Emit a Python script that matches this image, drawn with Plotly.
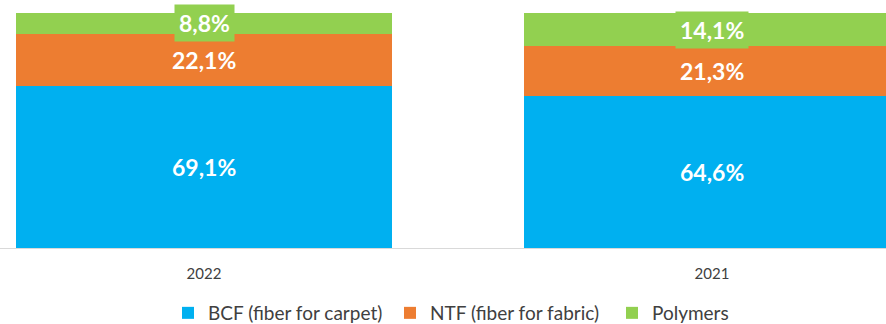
import plotly.graph_objects as go

years = ["2022", "2021"]
series_names = ["BCF (fiber for carpet)", "NTF (fiber for fabric)", "Polymers"]
bcf = [69.1, 64.6]
ntf = [22.1, 21.3]
polymers = [8.8, 14.1]
colors = ["#00B0F0", "#ED7D31", "#92D050"]

values = [bcf, ntf, polymers]

fig = go.Figure()
for name, vals, col in zip(series_names, values, colors):
    fig.add_trace(go.Bar(
        x=years, y=vals, name=name, marker=dict(color=col, line=dict(width=0)),
        hoverinfo="skip",
    ))

FONT = "Lato, 'Open Sans', sans-serif"

# labels
for i, yr in enumerate(years):
    base = 0
    for s, (vals, col) in enumerate(zip(values, colors)):
        v = vals[i]
        txt = f"<b>{v:.1f}%</b>".replace(".", ",")
        ann = dict(
            x=i, y=base + v / 2, text=txt, showarrow=False,
            font=dict(family=FONT, size=23, color="white"),
            xref="x", yref="y",
        )
        if s == 2:
            ann.update(bgcolor=col, borderpad=4)
        fig.add_annotation(**ann)
        base += v

fig.update_layout(
    barmode="stack",
    bargap=0.26,
    width=886, height=324,
    margin=dict(l=0, r=0, t=13, b=76, autoexpand=False),
    plot_bgcolor="white", paper_bgcolor="white",
    showlegend=True,
    legend=dict(
        orientation="h", x=168 / 886, xanchor="left", y=(248 - 313) / 235, yanchor="middle",
        font=dict(family=FONT, size=19, color="#404040"),
        traceorder="normal", entrywidth=177, entrywidthmode="pixels",
    ),
    xaxis=dict(
        type="category",
        range=[-0.4016, 1.3425], showline=True, linecolor="#D9D9D9", linewidth=1,
        tickfont=dict(family=FONT, size=15, color="#404040"),
        ticks="outside", ticklen=12, tickcolor="rgba(0,0,0,0)",
        showgrid=False, fixedrange=True,
    ),
    yaxis=dict(range=[0, 100], visible=False, showgrid=False, fixedrange=True),
)

fig.write_html("out.html")
